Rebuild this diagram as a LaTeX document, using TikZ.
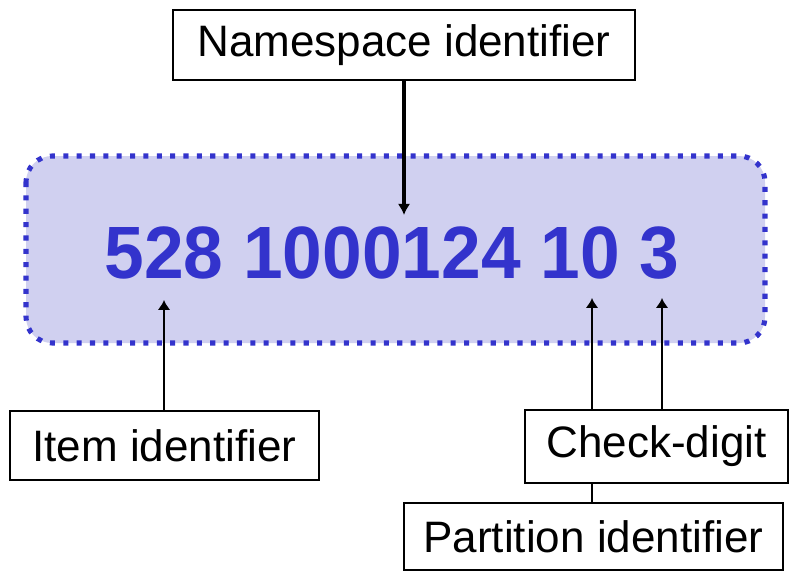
\documentclass[tikz,border=0pt]{standalone}
\usepackage{fontspec}
\setmainfont{Liberation Sans}
\usetikzlibrary{arrows.meta}
\definecolor{idblue}{RGB}{51,51,204}
\definecolor{idfill}{RGB}{208,208,240}
\tikzset{
  labelbox/.style={draw, fill=white, line width=1.4pt, inner sep=0pt,
    font=\fontsize{31.3}{36}\selectfont},
  pointer/.style={line width=1.4pt, -{Latex[length=7pt, width=9pt]}}
}

\begin{document}
\begin{tikzpicture}[x=0.025cm, y=-0.025cm]
				\useasboundingbox (0, 0) rectangle (789, 572);
				% Code field:
				\draw[idblue, fill=idfill, line width=3.6pt, dash pattern=on 3.6pt off 5.9pt,
				rounded corners=0.65cm] (26, 156) rectangle (765, 343);
				\node[anchor=base, text=idblue, inner sep=0pt,
				font=\fontsize{50.7}{60}\selectfont\bfseries]
				(code) at (392, 278){\scalebox{1}[1.04]{528 1000124 10 3}};
				\coordinate (nstip) at (404, 215);
				\coordinate (itemtip) at (164, 300);
				\coordinate (parttip) at (592, 298);
				\coordinate (checktip) at (662, 298);
				% Label boxes and pointers:
				\node[labelbox, minimum width=11.55cm, minimum height=1.75cm]
				(ns) at (404, 45){Namespace identifier};
				\draw[pointer, line width=2.8pt, -{Latex[length=8pt, width=9pt]}]
				(ns.south) -- (nstip);
				\node[labelbox, minimum width=7.725cm, minimum height=1.725cm]
				(item) at (164.5, 445.5){Item identifier};
				\draw[pointer] (item.north -| itemtip) -- (itemtip);
				\node[labelbox, minimum width=9.475cm, minimum height=1.675cm]
				(part) at (593.5, 536.5){Partition identifier};
				\draw[pointer] (part.north -| parttip) -- (parttip);
				\node[labelbox, minimum width=6.575cm, minimum height=1.825cm]
				(check) at (656.5, 446.5){Check-digit};
				\draw[pointer] (check.north -| checktip) -- (checktip);
			\end{tikzpicture}
\end{document}
